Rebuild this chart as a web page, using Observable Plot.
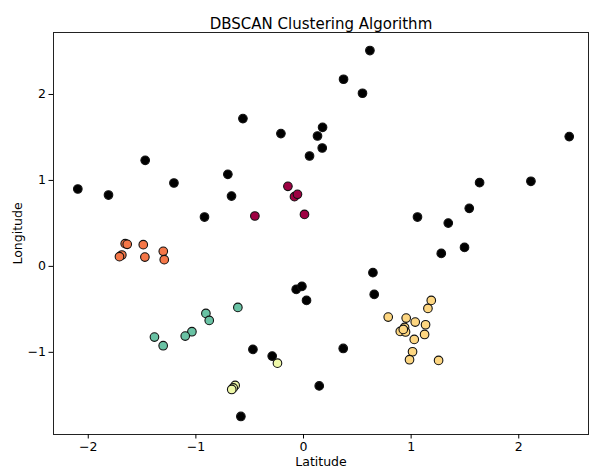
<!DOCTYPE html>
<html>
<head>
<meta charset="utf-8">
<script src="https://cdn.jsdelivr.net/npm/d3@7"></script>
<script src="https://cdn.jsdelivr.net/npm/@observablehq/plot@0.6"></script>
<style>
  html, body { margin: 0; padding: 0; background: #fff; }
</style>
</head>
<body>
<div id="chart"></div>
<script>
// Cluster labels (-1 = noise) and colours
const clusterColors = {"-1": "#000000", "0": "#9e0142", "1": "#f57748", "2": "#fdd681", "3": "#eef8a8", "4": "#69c2a4"};

const noiseX = [-2.097,-1.812,-1.471,-1.204,-0.920,-0.703,-0.669,-0.563,-0.210,0.056,0.130,0.177,0.174,0.617,0.372,0.548,2.469,2.113,1.636,1.540,1.345,1.059,1.496,1.280,0.645,0.657,0.369,0.146,-0.068,-0.015,0.028,-0.470,-0.291,-0.582];
const noiseY = [0.900,0.830,1.234,0.970,0.574,1.071,0.818,1.719,1.545,1.284,1.517,1.618,1.377,2.511,2.177,2.014,1.510,0.990,0.974,0.675,0.504,0.574,0.221,0.151,-0.073,-0.326,-0.955,-1.391,-0.268,-0.233,-0.396,-0.966,-1.044,-1.746];

const c0X = [-0.145,-0.084,-0.056,0.009,-0.452];
const c0Y = [0.931,0.811,0.838,0.605,0.586];

const c1X = [-1.657,-1.638,-1.489,-1.303,-1.294,-1.474,-1.688,-1.710];
const c1Y = [0.264,0.256,0.253,0.175,0.078,0.108,0.132,0.113];

const c2X = [1.187,1.156,0.787,0.954,1.038,1.134,0.939,0.899,0.948,0.927,1.125,1.029,1.013,0.985,1.255];
const c2Y = [-0.396,-0.489,-0.590,-0.602,-0.648,-0.679,-0.710,-0.757,-0.763,-0.733,-0.792,-0.850,-0.993,-1.086,-1.094];

const c3X = [-0.242,-0.635,-0.653,-0.667];
const c3Y = [-1.126,-1.385,-1.414,-1.432];

const c4X = [-0.610,-0.907,-0.876,-1.037,-1.099,-1.385,-1.304];
const c4Y = [-0.477,-0.547,-0.629,-0.760,-0.811,-0.823,-0.923];

const xTicks = [-2, -1, 0, 1, 2];
const yTicks = [-1, 0, 1, 2];

const groups = [["0", c0X, c0Y], ["1", c1X, c1Y], ["2", c2X, c2Y], ["3", c3X, c3Y], ["4", c4X, c4Y], ["-1", noiseX, noiseY]];
const points = groups.flatMap(([label, xs, ys]) => xs.map((x, i) => ({x, y: ys[i], label})));

const fmt = d => d < 0 ? "\u2212" + Math.abs(d) : String(d);

const chart = Plot.plot({
  width: 590,
  height: 469,
  marginLeft: 53,
  marginRight: 2,
  marginTop: 32,
  marginBottom: 35,
  style: {fontFamily: "DejaVu Sans, sans-serif", fontSize: "12.5px", color: "#000", background: "#fff"},
  x: {domain: [-2.323, 2.648]},
  y: {domain: [-1.956, 2.721]},
  marks: [
    Plot.frame({stroke: "#222", strokeWidth: 1}),
    Plot.axisX({ticks: xTicks, tickFormat: fmt, tickSize: 4.5, tickPadding: 3, label: "Latitude", labelAnchor: "center", labelArrow: "none", labelOffset: 31, fontSize: 12.5}),
    Plot.axisY({ticks: yTicks, tickFormat: fmt, tickSize: 4.5, tickPadding: 3, label: "Longitude", labelAnchor: "center", labelArrow: "none", labelOffset: 40, fontSize: 12.5}),
    Plot.dot(points, {x: "x", y: "y", r: 4.3, fill: d => clusterColors[d.label], stroke: "#111", strokeWidth: 1.1, fillOpacity: 1}),
    Plot.text(["DBSCAN Clustering Algorithm"], {frameAnchor: "top", dy: -14, text: d => d, fontSize: 15, fill: "#000"})
  ]
});
document.getElementById("chart").appendChild(chart);
</script>
</body>
</html>
